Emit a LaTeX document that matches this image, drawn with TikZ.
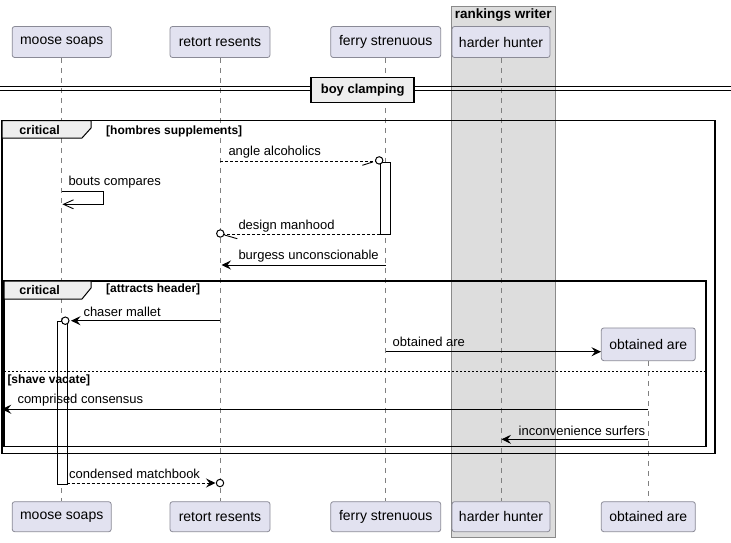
\documentclass[tikz,border=0pt]{standalone}
\usepackage{fontspec}
\setmainfont{Liberation Sans}
\usetikzlibrary{arrows.meta}
\definecolor{partfill}{HTML}{E2E2F0}
\definecolor{partdraw}{HTML}{8A8A96}
\definecolor{boxfill}{HTML}{DDDDDD}
\definecolor{boxdraw}{HTML}{8A8A8A}
\definecolor{tabfill}{HTML}{EEEEEE}
\definecolor{life}{HTML}{808080}
\tikzset{
 part/.style={draw=partdraw, fill=partfill, rounded corners=2.5pt, line width=0.8pt, minimum height=31pt, inner sep=0pt, font=\fontsize{14}{16}\selectfont},
 lifeline/.style={draw=life, line width=0.6pt, dash pattern=on 5pt off 5pt},
 msg/.style={line width=0.9pt},
 dmsg/.style={line width=0.9pt, dash pattern=on 3pt off 2pt},
 tip/.style={-{Stealth[length=9.5pt,width=9pt,inset=3.5pt]}},
 barb/.style={-{Straight Barb[length=10pt,width=9pt,line width=0.9pt]}},
 lbl/.style={font=\fontsize{13}{15}\selectfont, anchor=west, inner sep=0pt},
 grp/.style={font=\bfseries\fontsize{12}{14}\selectfont, anchor=west, inner sep=0pt},
 frame/.style={line width=1.5pt},
 tab/.style={line width=1pt, fill=tabfill},
 act/.style={draw, fill=white, line width=0.9pt},
 endcirc/.style={draw, fill=white, line width=1pt},
}
\begin{document}
\begin{tikzpicture}[x=1pt,y=-1pt]
\useasboundingbox[fill=white] (0,0) rectangle (731,542);
% box
\path[draw=boxdraw, fill=boxfill, line width=0.8pt] (451.7,6) rectangle (555,537);
\node[font=\bfseries\fontsize{13.5}{15}\selectfont, inner sep=0pt] (boxtitle) at (503.3,15.5) {rankings writer};
% participants
\node[part, minimum width=99pt]  (p1t) at (61.7,42) {moose soaps};
\node[part, minimum width=100pt] (p2t) at (220,42) {retort resents};
\node[part, minimum width=110pt] (p3t) at (385.7,42) {ferry strenuous};
\node[part, minimum width=98pt]  (p4t) at (501,42) {harder hunter};
\node[part, minimum width=94pt, minimum height=32.7pt] (p5c) at (648.3,344.3) {obtained are};
\node[part, minimum width=99pt, minimum height=30pt]  (p1b) at (61.7,516.7) {moose soaps};
\node[part, minimum width=100pt, minimum height=30pt] (p2b) at (220,516.7) {retort resents};
\node[part, minimum width=110pt, minimum height=30pt] (p3b) at (385.7,516.7) {ferry strenuous};
\node[part, minimum width=98pt, minimum height=30pt]  (p4b) at (501,516.7) {harder hunter};
\node[part, minimum width=94pt, minimum height=30pt]  (p5b) at (648.3,516.7) {obtained are};
% lifelines
\draw[lifeline] (p1t.south) -- (p1b.north);
\draw[lifeline] (p2t.south) -- (p2b.north);
\draw[lifeline] (p3t.south) -- (p3b.north);
\draw[lifeline] (p4t.south) -- (p4b.north);
\draw[lifeline] (p5c.south) -- (p5b.north);
% activations
\node[act, minimum width=10pt, minimum height=72.3pt, inner sep=0pt, anchor=north west] (act1) at (380,161.7) {};
\node[act, minimum width=10pt, minimum height=163.3pt, inner sep=0pt, anchor=north west] (act2) at (56.7,320.7) {};
% divider
\draw[line width=1pt] (0,86) -- (731,86);
\draw[line width=1pt] (0,90.3) -- (731,90.3);
\node[draw, fill=tabfill, line width=1.6pt, minimum width=103pt, minimum height=25pt, inner sep=0pt, font=\bfseries\fontsize{13}{15}\selectfont] (div) at (362.7,89.8) {boy clamping};
% outer group
\draw[frame] (2,120.7) rectangle (715,453.5);
\draw[tab] (2,120.7) -- (91,120.7) -- (91,128) -- (82,138) -- (2,138) -- cycle;
\node[font=\bfseries\fontsize{12.5}{14}\selectfont, anchor=west, inner sep=0pt] (g1) at (19.3,130.5) {critical};
\node[grp] (g1c) at (106,131) {[hombres supplements]};
% inner group
\draw[frame] (4,281) rectangle (706,446.5);
\draw[tab] (4,281) -- (91,281) -- (91,288) -- (82,299) -- (4,299) -- cycle;
\node[font=\bfseries\fontsize{12.5}{14}\selectfont, anchor=west, inner sep=0pt] (g2) at (19.3,290.5) {critical};
\node[grp] (g2c) at (106,289.5) {[attracts header]};
\coordinate (sepl) at (4,371.7);
\coordinate (sepr) at (706,371.7);
\draw[line width=0.9pt, dash pattern=on 2pt off 2pt] (sepl) -- (sepr);
\node[grp] (g2e) at (7.3,380.7) {[shave vacate]};
% 1 angle alcoholics
\coordinate (m1s) at (220,161.7);
\coordinate (m1e) at (375.5,161.7);
\coordinate (m1b) at (362.3,165.3);
\coordinate (m1k) at (373,161.9);
\draw[dmsg] (m1s) -- (m1e);
\draw[msg] (m1b) -- (m1k);
\node[endcirc, circle, minimum size=7.4pt, inner sep=0pt] (c1) at (379.2,160.4) {};
\node[lbl] (l1) at (228.3,152) {angle alcoholics};
% 2 bouts compares
\coordinate (m2a) at (61.7,191.7);
\coordinate (m2b) at (103,191.7);
\coordinate (m2c) at (103,204.3);
\coordinate (m2d) at (62.4,204.3);
\draw[msg, barb] (m2a) -- (m2b) -- (m2c) -- (m2d);
\node[lbl] (l2) at (68.3,182.3) {bouts compares};
% 3 design manhood
\coordinate (m3s) at (380,234.3);
\coordinate (m3e) at (224,234.3);
\coordinate (m3b) at (237.3,238.7);
\coordinate (m3k) at (224.5,235);
\draw[dmsg] (m3s) -- (m3e);
\draw[msg] (m3b) -- (m3k);
\node[endcirc, circle, minimum size=7.4pt, inner sep=0pt] (c3) at (220.3,233.5) {};
\node[lbl] (l3) at (238.3,225.7) {design manhood};
% 4 burgess unconscionable
\coordinate (m4s) at (385.7,265);
\coordinate (m4e) at (221.5,265);
\draw[msg, tip] (m4s) -- (m4e);
\node[lbl] (l4) at (238.3,256) {burgess unconscionable};
% 5 chaser mallet
\coordinate (m5s) at (220,320.7);
\coordinate (m5e) at (71,320.7);
\draw[msg, tip] (m5s) -- (m5e);
\node[endcirc, circle, minimum size=7.4pt, inner sep=0pt] (c5) at (65.3,320.7) {};
\node[lbl] (l5) at (83.3,311.7) {chaser mallet};
% 6 obtained are
\coordinate (m6s) at (385.7,351.7);
\coordinate (m6e) at (601,351.7);
\draw[msg, tip] (m6s) -- (m6e);
\node[lbl] (l6) at (392.5,341.7) {obtained are};
% 7 comprised consensus
\coordinate (m7s) at (648.3,409.2);
\coordinate (m7e) at (1.7,409.2);
\draw[msg, tip] (m7s) -- (m7e);
\node[lbl] (l7) at (17.3,400) {comprised consensus};
% 8 inconvenience surfers
\coordinate (m8s) at (648.3,439.3);
\coordinate (m8e) at (501.5,439.3);
\draw[msg, tip] (m8s) -- (m8e);
\node[lbl] (l8) at (518.5,430.5) {inconvenience surfers};
% 9 condensed matchbook
\coordinate (m9s) at (66.7,483);
\coordinate (m9e) at (215.5,483);
\draw[dmsg, tip] (m9s) -- (m9e);
\node[endcirc, circle, minimum size=7.4pt, inner sep=0pt] (c9) at (220,483) {};
\node[lbl] (l9) at (69,474) {condensed matchbook};
\end{tikzpicture}
\end{document}
